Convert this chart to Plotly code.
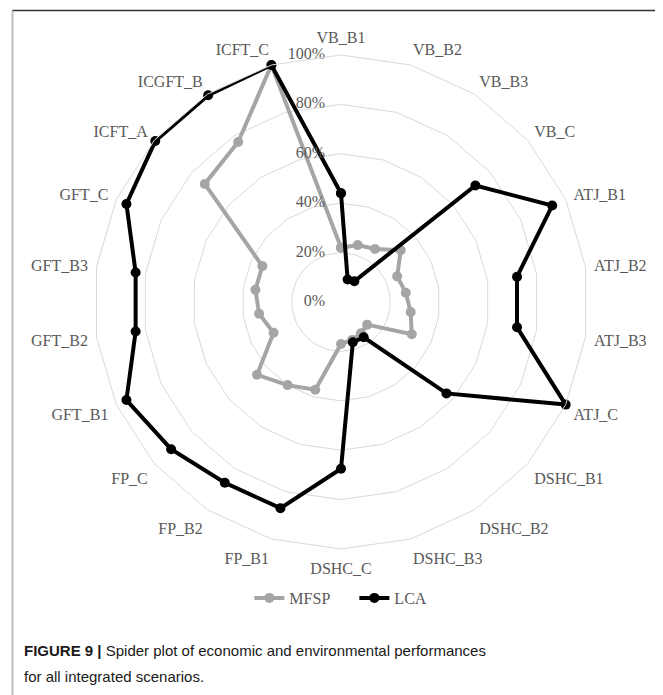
import plotly.graph_objects as go

categories = ["VB_B1", "VB_B2", "VB_B3", "VB_C", "ATJ_B1", "ATJ_B2", "ATJ_B3", "ATJ_C",
              "DSHC_B1", "DSHC_B2", "DSHC_B3", "DSHC_C", "FP_B1", "FP_B2", "FP_C",
              "GFT_B1", "GFT_B2", "GFT_B3", "GFT_C", "ICFT_A", "ICGFT_B", "ICFT_C"]

mfsp = [0.22, 0.24, 0.255, 0.32, 0.25, 0.265, 0.285, 0.315, 0.14, 0.15, 0.16, 0.17,
        0.37, 0.40, 0.45, 0.30, 0.335, 0.35, 0.35, 0.73, 0.77, 1.00]
lca = [0.44, 0.095, 0.10, 0.72, 0.94, 0.72, 0.72, 1.00, 0.565, 0.17, 0.17, 0.675,
       0.87, 0.87, 0.91, 0.955, 0.84, 0.84, 0.955, 0.995, 0.995, 1.00]

radial_ticks = [0, 0.2, 0.4, 0.6, 0.8, 1.0]
radial_labels = ["0%", "20%", "40%", "60%", "80%", "100%"]

W, H = 663, 695
OFF = 8  # page body margin offset
cx, cy, R = 341 - OFF, 302 - OFF, 247


def py(y_px):
    """page pixel (from top) -> paper y"""
    return (H - (y_px - OFF)) / H


def px(x_px):
    return (x_px - OFF) / W


label_font = dict(family="Liberation Serif, Times New Roman, serif", size=16, color="#595959")
cap_font = "Liberation Sans Narrow, Arial Narrow, Liberation Sans, Arial, sans-serif"

fig = go.Figure()
for name, vals, col in [("MFSP", mfsp, "#a5a5a5"), ("LCA", lca, "#000000")]:
    fig.add_trace(go.Scatterpolar(
        r=vals + [vals[0]], theta=categories + [categories[0]],
        mode="lines+markers", name=name,
        line=dict(color=col, width=4),
        marker=dict(color=col, size=10),
    ))

# radial tick labels, placed on the left of the first spoke
fig.add_trace(go.Scatterpolar(
    r=[max(t, 1e-4) for t in radial_ticks], theta=[categories[0]] * len(radial_ticks),
    mode="text", text=[t + "\u00a0\u00a0\u00a0\u00a0" for t in radial_labels],
    textposition="middle left", textfont=label_font,
    showlegend=False, hoverinfo="skip", cliponaxis=False,
))

fig.update_layout(
    width=W, height=H,
    margin=dict(l=0, r=0, t=0, b=0),
    paper_bgcolor="white",
    showlegend=True,
    legend=dict(orientation="h", x=px(256) - 0.01, xanchor="left", y=py(598), yanchor="middle",
                font=label_font, bgcolor="rgba(0,0,0,0)", entrywidth=60),
    polar=dict(
        domain=dict(x=[(cx - R) / W, (cx + R) / W], y=[(H - cy - R) / H, (H - cy + R) / H]),
        bgcolor="white",
        gridshape="linear",
        angularaxis=dict(
            rotation=90, direction="clockwise",
            showgrid=False, showline=True, linecolor="#d9d9d9", linewidth=1,
            ticks="outside", ticklen=5, tickcolor="rgba(0,0,0,0)", tickfont=label_font,
        ),
        radialaxis=dict(
            range=[0, 1], tickvals=radial_ticks, showticklabels=False,
            angle=90, showline=False, ticks="",
            gridcolor="#d9d9d9", gridwidth=1,
        ),
    ),
    annotations=[
        dict(xref="paper", yref="paper", x=px(22), y=py(650), xanchor="left", yanchor="middle",
             align="left", showarrow=False,
             text="<b>FIGURE 9 |</b> Spider plot of economic and environmental performances",
             font=dict(family=cap_font, size=15, color="#1a1a1a")),
        dict(xref="paper", yref="paper", x=px(22), y=py(676), xanchor="left", yanchor="middle",
             align="left", showarrow=False,
             text="for all integrated scenarios.",
             font=dict(family=cap_font, size=15, color="#1a1a1a")),
    ],
    shapes=[
        dict(type="line", xref="paper", yref="paper", x0=px(12), x1=px(661), y0=py(10.5), y1=py(10.5),
             line=dict(color="#333333", width=1.5)),
        dict(type="line", xref="paper", yref="paper", x0=px(12.5), x1=px(12.5), y0=0, y1=py(10.5),
             line=dict(color="#bbbbbb", width=2)),
        dict(type="line", xref="paper", yref="paper", x0=px(661), x1=px(661), y0=0, y1=py(10.5),
             line=dict(color="#555555", width=1)),
    ],
)

fig.write_html("out.html")
